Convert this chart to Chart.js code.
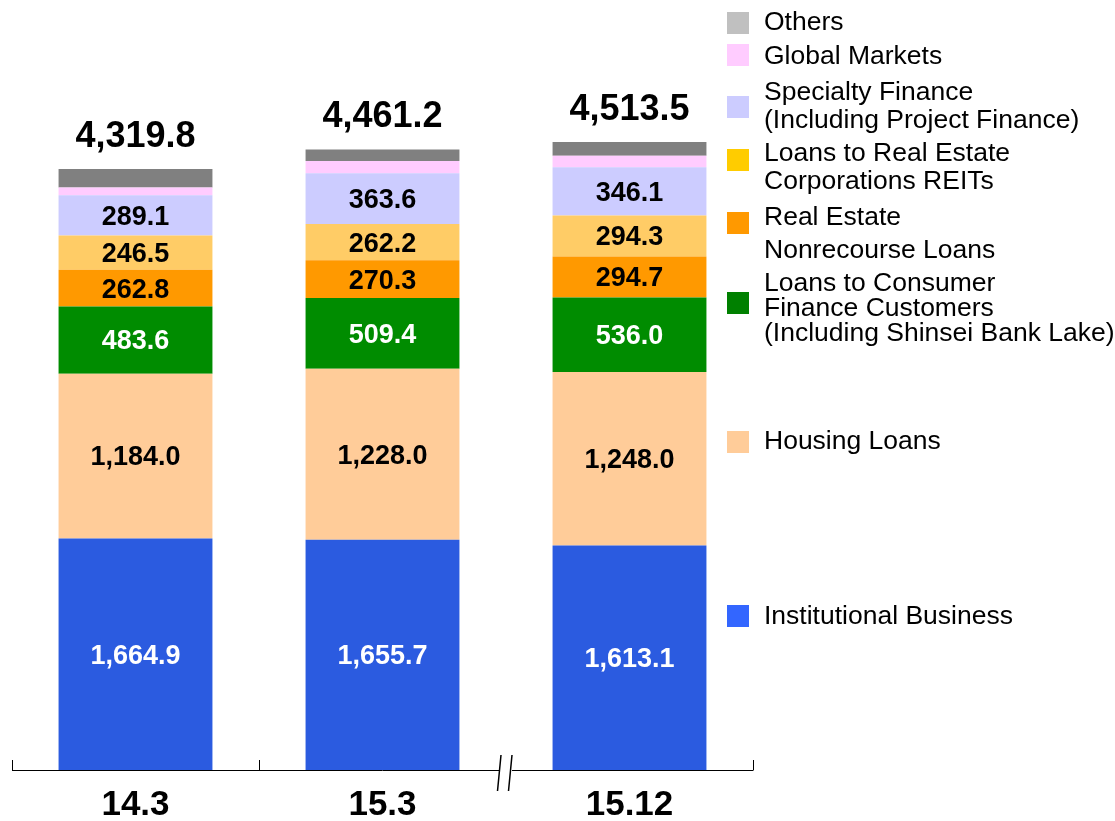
<!DOCTYPE html>
<html>
<head>
<meta charset="utf-8">
<script src="https://cdn.jsdelivr.net/npm/chart.js@4"></script>
<style>
  html, body { margin: 0; padding: 0; background: #fff; }
  #wrap { position: relative; width: 1115px; height: 821px; }
</style>
</head>
<body>
<div id="wrap"><canvas id="chart"></canvas></div>
<script>
// categories and totals
const categories = ['14.3', '15.3', '15.12'];
const totals = ['4,319.8', '4,461.2', '4,513.5'];

// series, bottom to top
const institutional = [1664.9, 1655.7, 1613.1];
const housing = [1184.0, 1228.0, 1248.0];
const consumer = [483.6, 509.4, 536.0];
const nonrecourse = [262.8, 270.3, 294.7];
const reits = [246.5, 262.2, 294.3];
const specialty = [289.1, 363.6, 346.1];
const globalMarkets = [56.0, 88.0, 83.3];
const others = [132.9, 84.0, 98.0];

const series = [
  { label: 'Institutional Business', data: institutional, color: '#2b5be0', legendColor: '#3366ff', text: '#fff', show: true },
  { label: 'Housing Loans', data: housing, color: '#ffcc99', legendColor: '#ffcc99', text: '#000', show: true },
  { label: 'Loans to Consumer Finance Customers', data: consumer, color: '#008c00', legendColor: '#008000', text: '#fff', show: true },
  { label: 'Real Estate Nonrecourse Loans', data: nonrecourse, color: '#ff9900', legendColor: '#ff9900', text: '#000', show: true },
  { label: 'Loans to Real Estate Corporations REITs', data: reits, color: '#ffcc66', legendColor: '#ffcc00', text: '#000', show: true },
  { label: 'Specialty Finance', data: specialty, color: '#ccccff', legendColor: '#ccccff', text: '#000', show: true },
  { label: 'Global Markets', data: globalMarkets, color: '#ffccff', legendColor: '#ffccff', text: '#000', show: false },
  { label: 'Others', data: others, color: '#808080', legendColor: '#c0c0c0', text: '#000', show: false }
];

// legend entries: text lines with their centre y, square top
const legendItems = [
  { idx: 7, sq: 12, lines: [['Others', 22]] },
  { idx: 6, sq: 44, lines: [['Global Markets', 56]] },
  { idx: 5, sq: 96, lines: [['Specialty Finance', 92], ['(Including Project Finance)', 120]] },
  { idx: 4, sq: 149, lines: [['Loans to Real Estate', 153], ['Corporations REITs', 181]] },
  { idx: 3, sq: 212, lines: [['Real Estate', 217], ['Nonrecourse Loans', 250]] },
  { idx: 2, sq: 292, lines: [['Loans to Consumer', 283], ['Finance Customers', 308], ['(Including Shinsei Bank Lake)', 333]] },
  { idx: 1, sq: 431, lines: [['Housing Loans', 441]] },
  { idx: 0, sq: 605, lines: [['Institutional Business', 616]] }
];

const FONT = 'Arial, "Liberation Sans", sans-serif';

const decorations = {
  id: 'decorations',
  afterDatasetsDraw(chart) {
    const ctx = chart.ctx;
    const area = chart.chartArea;
    const x = chart.scales.x;
    const step = x.getPixelForValue(1) - x.getPixelForValue(0);
    ctx.save();

    // segment labels
    ctx.textAlign = 'center';
    ctx.textBaseline = 'middle';
    ctx.font = 'bold 27px ' + FONT;
    chart.data.datasets.forEach((ds, di) => {
      if (!series[di].show) return;
      chart.getDatasetMeta(di).data.forEach((bar, i) => {
        ctx.fillStyle = series[di].text;
        ctx.fillText(ds.data[i].toFixed(1).replace(/\B(?=(\d{3})+(?!\d))/, ','), bar.x, (bar.y + bar.base) / 2 + 2);
      });
    });

    // totals
    const top = chart.getDatasetMeta(series.length - 1).data;
    ctx.font = 'bold 36px ' + FONT;
    ctx.fillStyle = '#000';
    top.forEach((bar, i) => ctx.fillText(totals[i], bar.x, bar.y - 32));

    // category labels
    ctx.font = 'bold 35px ' + FONT;
    categories.forEach((c, i) => ctx.fillText(c, x.getPixelForValue(i), 805));

    // axis line, ticks
    const y0 = area.bottom;
    ctx.strokeStyle = '#000';
    ctx.lineWidth = 1;
    ctx.beginPath();
    ctx.moveTo(area.left, y0 + 0.5);
    ctx.lineTo(area.right, y0 + 0.5);
    [x.getPixelForValue(0) - step / 2, x.getPixelForValue(0) + step / 2, x.getPixelForValue(2) + step / 2].forEach(px => {
      const p = Math.round(px) + 0.5;
      ctx.moveTo(p, y0 - 10);
      ctx.lineTo(p, y0 + 0.5);
    });
    ctx.stroke();

    // axis break between 2nd and 3rd bar
    const bx = (x.getPixelForValue(1) + x.getPixelForValue(2)) / 2;
    ctx.fillStyle = '#fff';
    ctx.fillRect(bx - 7, y0 - 2, 13, 5);
    ctx.lineWidth = 1.5;
    ctx.beginPath();
    ctx.moveTo(bx - 8.5, y0 + 21);
    ctx.lineTo(bx - 5, y0 - 15);
    ctx.moveTo(bx + 2.5, y0 + 21);
    ctx.lineTo(bx + 6, y0 - 15);
    ctx.stroke();

    // legend
    ctx.textAlign = 'left';
    ctx.font = '26.5px ' + FONT;
    legendItems.forEach(item => {
      ctx.fillStyle = series[item.idx].legendColor;
      ctx.fillRect(727, item.sq, 22, 22);
      ctx.fillStyle = '#000';
      item.lines.forEach(([text, ty]) => ctx.fillText(text, 764, ty + 1));
    });
    ctx.restore();
  }
};

new Chart(document.getElementById('chart'), {
  type: 'bar',
  data: {
    labels: categories,
    datasets: series.map(s => ({
      label: s.label,
      data: s.data,
      backgroundColor: s.color,
      borderWidth: 0,
      barPercentage: 1,
      categoryPercentage: 0.623
    }))
  },
  options: {
    responsive: true,
    maintainAspectRatio: false,
    animation: false,
    layout: { padding: { left: 12, right: 362, top: 0, bottom: 51 } },
    plugins: { legend: { display: false }, tooltip: { enabled: false } },
    scales: {
      x: { stacked: true, display: false },
      y: { stacked: true, display: false, min: 0, max: 5535 }
    }
  },
  plugins: [decorations]
});
</script>
</body>
</html>
